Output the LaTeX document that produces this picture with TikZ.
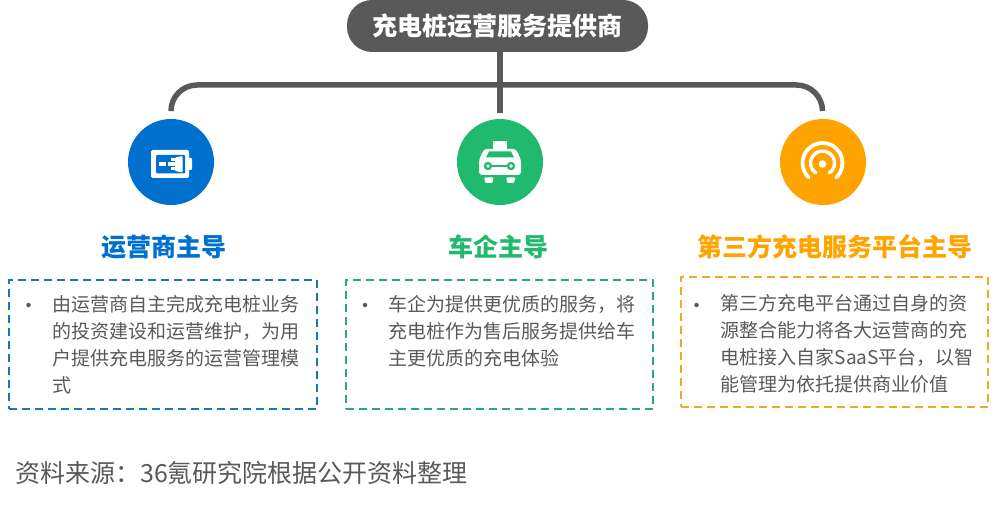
\documentclass[tikz,border=0pt]{standalone}
\usepackage{fontspec}
\setmainfont{Noto Sans CJK SC}
\definecolor{rootgray}{HTML}{595959}
\definecolor{txtgray}{HTML}{595959}
\definecolor{cblue}{HTML}{0070CE}
\definecolor{cgreen}{HTML}{21B96E}
\definecolor{corange}{HTML}{FFA300}
\definecolor{dblue}{HTML}{1A75BB}
\definecolor{dgreen}{HTML}{2AA876}
\definecolor{dorange}{HTML}{F0A828}
\tikzset{
  rootbox/.style={fill=rootgray,rounded corners=25pt,minimum width=301pt,minimum height=52pt,inner sep=0pt,text=white,font=\fontsize{25}{25}\selectfont\bfseries},
  conn/.style={draw=rootgray,line width=5.5pt},
  disc/.style={circle,minimum size=86pt,inner sep=0pt},
  headtxt/.style={inner sep=0pt,font=\fontsize{25}{25}\selectfont\bfseries},
  dashbox/.style={line width=2.3pt,dash pattern=on 8pt off 5pt,minimum width=308pt,inner sep=0pt,outer sep=0pt,anchor=north west},
  bodytxt/.style={inner sep=0pt,anchor=north west,align=left,text=txtgray,font=\fontsize{19}{27}\selectfont},
  bulletdot/.style={circle,fill=txtgray,minimum size=4.5pt,inner sep=0pt},
}
\begin{document}
\begin{tikzpicture}[x=1pt,y=-1pt]
\useasboundingbox (0,0) rectangle (1001,505);
% connectors
\node[rootbox] (root) at (497.5,26) {充电桩运营服务提供商};
\coordinate (legL) at (171,110);
\coordinate (legC) at (500,113);
\coordinate (legR) at (822.5,111);
\coordinate (bar) at (500,85);
\draw[conn] (500,52) -- (legC);
\draw[conn,rounded corners=26pt] (legL) |- (bar) -| (legR);
% discs
\node[disc,fill=cblue] (d1) at (171,162) {};
\node[disc,fill=cgreen] (d2) at (500,162) {};
\node[disc,fill=corange] (d3) at (823,162) {};
% battery icon
\fill[white,rounded corners=1.5pt] (151,150) rectangle (189,178);
\fill[white,rounded corners=1pt] (188,158) rectangle (192,170);
\fill[cblue,rounded corners=1pt] (156,155) rectangle (185,173.5);
\fill[white] (158.5,162.5) rectangle (166,166);
\fill[white] (168,162.5) rectangle (176,166);
\fill[white] (171,158.5) rectangle (176,161);
\fill[white] (171,167.5) rectangle (176,170);
\fill[white,rounded corners=1pt] (175,157.5) -- (182.5,156) -- (182.5,172.5) -- (175,171) -- cycle;
% car icon
\fill[white] (493,141) rectangle (507,149);
\fill[white,rounded corners=3pt] (479,175) -- (479,160) -- (484,149) -- (516,149) -- (521,160) -- (521,175) -- cycle;
\fill[cgreen] (489,151.5) -- (511,151.5) -- (514,157.5) -- (486,157.5) -- cycle;
\draw[cgreen,line width=1.5pt] (488,166) -- (511,166);
\fill[cgreen] (488,166) circle[radius=4.2pt] (511,166) circle[radius=4.2pt];
\fill[white] (488,166) circle[radius=1.8pt] (511,166) circle[radius=1.8pt];
\fill[white,rounded corners=1pt] (484,177.5) -- (493.5,177.5) -- (492.5,183) -- (485.5,183) -- cycle;
\fill[white,rounded corners=1pt] (506,177.5) -- (515.5,177.5) -- (514,183) -- (507.5,183) -- cycle;
% signal icon
\begin{scope}[shift={(822.5,163)},y=1pt]
  \fill[white] (0,-1) circle[radius=3.8pt];
  \draw[white,line width=3.4pt,line cap=round] (236:12) arc[start angle=236,end angle=-56,radius=12pt];
  \draw[white,line width=3.8pt,line cap=round] (226:20) arc[start angle=226,end angle=-46,radius=20pt];
\end{scope}
% headings
\node[headtxt,text=cblue] (h1) at (163.5,247) {运营商主导};
\node[headtxt,text=cgreen] (h2) at (498,247) {车企主导};
\node[headtxt,text=corange] (h3) at (834.5,247) {第三方充电服务平台主导};
% boxes
\node[dashbox,draw=dblue,minimum height=129pt] (b1) at (9,280) {};
\node[dashbox,draw=dgreen,minimum height=129pt,minimum width=307pt] (b2) at (346,280) {};
\node[dashbox,draw=dorange,minimum height=130pt,minimum width=307pt] (b3) at (681,277) {};
% bullets and text
\node[bulletdot] (p1) at (28.5,305) {};
\node[bulletdot] (p2) at (365,305) {};
\node[bulletdot] (p3) at (696.5,305) {};
\node[bodytxt] (t1) at (52.5,295) {由运营商自主完成充电桩业务\\的投资建设和运营维护，为用\\户提供充电服务的运营管理模\\式};
\node[bodytxt] (t2) at (388.5,295) {车企为提供更优质的服务，将\\充电桩作为售后服务提供给车\\主更优质的充电体验};
\node[bodytxt] (t3) at (720.5,294) {第三方充电平台通过自身的资\\源整合能力将各大运营商的充\\电桩接入自家SaaS平台，以智\\能管理为依托提供商业价值};
% footer
\node[inner sep=0pt,anchor=west,text=txtgray,font=\fontsize{25}{25}\selectfont] (src) at (15,473) {资料来源：36氪研究院根据公开资料整理};
\end{tikzpicture}
\end{document}
